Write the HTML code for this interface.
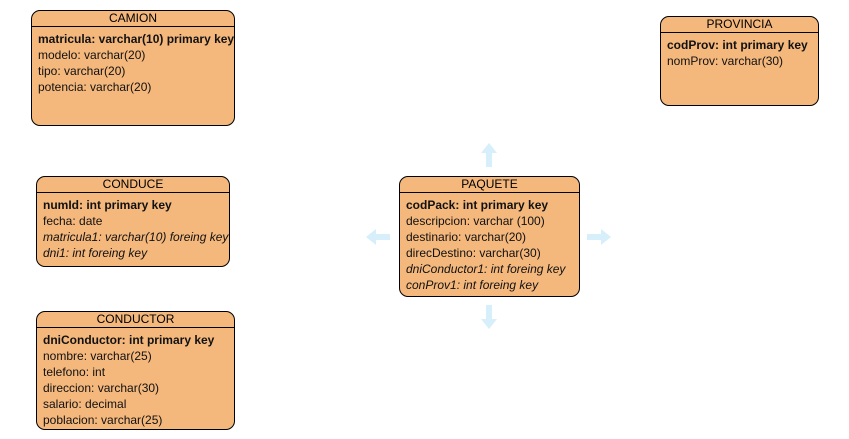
<!DOCTYPE html>
<html><head><meta charset="utf-8"><style>
body{margin:0;width:849px;height:439px;background:#fff;position:relative;overflow:hidden;font-family:"Liberation Sans",Arial,sans-serif;}
.b{position:absolute;background:#f4b77c;border:1px solid #000;border-radius:9px;box-sizing:border-box;}
.h{height:15px;border-bottom:1px solid #000;text-align:center;font-size:12px;line-height:14px;color:#000;}
.r{padding:4px 0 0 6px;font-size:12px;line-height:16px;color:#111;white-space:nowrap;}
.r b{font-weight:bold}
</style></head><body>
<div class="b" style="left:31px;top:10px;width:204px;height:116px"><div class="h">CAMION</div><div class="r"><b>matricula: varchar(10) primary key</b><br>modelo: varchar(20)<br>tipo: varchar(20)<br>potencia: varchar(20)</div></div>
<div class="b" style="left:660px;top:16px;width:159px;height:90px"><div class="h">PROVINCIA</div><div class="r"><b>codProv: int primary key</b><br>nomProv: varchar(30)</div></div>
<div class="b" style="left:36px;top:176px;width:194px;height:91px"><div class="h">CONDUCE</div><div class="r"><b>numId: int primary key</b><br>fecha: date<br><i>matricula1: varchar(10) foreing key</i><br><i>dni1: int foreing key</i></div></div>
<div class="b" style="left:399px;top:176px;width:181px;height:121px"><div class="h">PAQUETE</div><div class="r"><b>codPack: int primary key</b><br>descripcion: varchar (100)<br>destinario: varchar(20)<br>direcDestino: varchar(30)<br><i>dniConductor1: int foreing key</i><br><i>conProv1: int foreing key</i></div></div>
<div class="b" style="left:36px;top:311px;width:199px;height:119px"><div class="h">CONDUCTOR</div><div class="r"><b>dniConductor: int primary key</b><br>nombre: varchar(25)<br>telefono: int<br>direccion: varchar(30)<br>salario: decimal<br>poblacion: varchar(25)</div></div>
<svg width="849" height="439" style="position:absolute;left:0;top:0" fill="#d6effb">
<polygon points="489,143 497,153 492,153 492,167 486,167 486,153 481,153"/>
<polygon points="489,329 497,319 492,319 492,305 486,305 486,319 481,319"/>
<polygon points="366,237 376,229 376,234 390,234 390,240 376,240 376,245"/>
<polygon points="611,237 601,229 601,234 587,234 587,240 601,240 601,245"/>
</svg>
</body></html>
